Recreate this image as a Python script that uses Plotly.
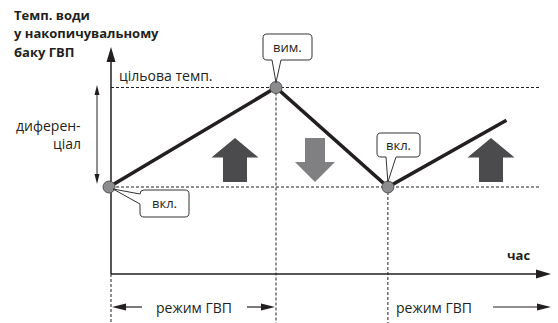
import plotly.graph_objects as go

# 数据：一个ГВП循环（时间, 小时 / 水温, °C）
time_h = [0, 5, 8.35, 11.9]
temp_c = [40, 50, 40, 46.7]
marker_idx = [0, 1, 2]
temp_target = 50
temp_on = 40

title_lines = ["Темп. води", "у накопичувальному", "баку ГВП"]
callout_texts = ["вкл.", "вим.", "вкл."]

W, H = 558, 323
ORIGIN_X, PX_PER_H = 109, 33.4
ON_Y, PX_PER_C = 187, 9.95
INK = "#231f20"
FONT = "Open Sans"


def tx(t):
    return ORIGIN_X + t * PX_PER_H


def ty(v):
    return ON_Y - (v - temp_on) * PX_PER_C


def px(x):
    return x / W


def py(y):
    return 1 - y / H


def P(x, y):
    return f"{px(x):.5f},{py(y):.5f}"


def path(points):
    return "M" + " L".join(P(x, y) for x, y in points) + " Z"


shapes = []


def seg(x0, y0, x1, y1, width=1.2, dash="solid", color=INK, layer="above"):
    shapes.append(dict(type="line", xref="paper", yref="paper", layer=layer,
                       x0=px(x0), y0=py(y0), x1=px(x1), y1=py(y1),
                       line=dict(color=color, width=width, dash=dash)))


def poly(points, fill, line_color=None, width=0):
    shapes.append(dict(type="path", xref="paper", yref="paper", path=path(points),
                       fillcolor=fill, line=dict(color=line_color or fill, width=width)))


def arrow_head(tip, direction, length, half):
    x, y = tip
    if direction == "up":
        poly([(x, y), (x - half, y + length), (x + half, y + length)], INK)
    elif direction == "down":
        poly([(x, y), (x - half, y - length), (x + half, y - length)], INK)
    elif direction == "left":
        poly([(x, y), (x + length, y - half), (x + length, y + half)], INK)
    else:
        poly([(x, y), (x - length, y - half), (x - length, y + half)], INK)


def block_arrow(cx, top, bottom, head_y, shaft_w, head_w, up, color):
    sw, hw = shaft_w / 2, head_w / 2
    if up:
        pts = [(cx, top), (cx + hw, head_y), (cx + sw, head_y), (cx + sw, bottom),
               (cx - sw, bottom), (cx - sw, head_y), (cx - hw, head_y)]
    else:
        pts = [(cx, bottom), (cx + hw, head_y), (cx + sw, head_y), (cx + sw, top),
               (cx - sw, top), (cx - sw, head_y), (cx - hw, head_y)]
    poly(pts, color)


def callout(x0, y0, x1, y1, tail, r=4):
    # 圆角矩形 + 指向数据点的尾巴
    side, a, b, tip = tail
    d = "M" + P(x0 + r, y0)
    d += " L" + P(x1 - r, y0) + " Q" + P(x1, y0) + " " + P(x1, y0 + r)
    d += " L" + P(x1, y1 - r) + " Q" + P(x1, y1) + " " + P(x1 - r, y1)
    if side == "bottom":
        d += " L" + P(b, y1) + " L" + P(*tip) + " L" + P(a, y1)
    d += " L" + P(x0 + r, y1) + " Q" + P(x0, y1) + " " + P(x0, y1 - r)
    if side == "left":
        d += " L" + P(x0, b) + " L" + P(*tip) + " L" + P(x0, a)
    d += " L" + P(x0, y0 + r) + " Q" + P(x0, y0) + " " + P(x0 + r, y0) + " Z"
    shapes.append(dict(type="path", xref="paper", yref="paper", path=d,
                       fillcolor="white", line=dict(color="#333333", width=1)))


AX_X, AX_Y = 111, 274
dash = "3px,2px"

# 虚线：目标温度、开启温度、垂直辅助线（放在曲线下面）
seg(AX_X, ty(temp_target), 540, ty(temp_target), 1, dash, layer="below")
seg(AX_X, ty(temp_on), 540, ty(temp_on), 1, dash, layer="below")
seg(tx(time_h[1]), ty(temp_target), tx(time_h[1]), H, 1, dash, layer="below")
seg(tx(time_h[2]), ty(temp_on), tx(time_h[2]), H, 1, dash, layer="below")
seg(AX_X, AX_Y, AX_X, H, 1, dash, layer="below")

# 坐标轴
seg(AX_X, AX_Y, AX_X, 58, 1.5, layer="below")
arrow_head((AX_X, 47), "up", 15, 4.5)
seg(AX_X, AX_Y, 538, AX_Y, 1.5, layer="below")
arrow_head((551, AX_Y), "right", 15, 4.5)

# 回差双箭头
seg(97, 93, 97, 176, 1)
arrow_head((97, 85), "up", 10, 2.5)
arrow_head((97, 184), "down", 10, 2.5)

# 底部“режим ГВП”箭头
seg(124, 307, 142, 307, 1.2)
arrow_head((112, 307), "left", 14, 3.5)
seg(247, 307, 263, 307, 1.2)
arrow_head((275, 307), "right", 14, 3.5)
seg(493, 307, 539, 307, 1.2)
arrow_head((551, 307), "right", 14, 3.5)

# 加热/冷却块状箭头
block_arrow(235, 138, 182, 157.5, 24, 47, True, "#4b4b4d")
block_arrow(315, 138, 182, 162, 20, 40, False, "#808082")
block_arrow(491, 138, 182, 157.5, 24, 47, True, "#4b4b4d")

# 标注气泡
p0 = (tx(time_h[0]), ty(temp_c[0]))
p1 = (tx(time_h[1]), ty(temp_c[1]))
p2 = (tx(time_h[2]), ty(temp_c[2]))
callout(140, 190, 189, 217, ("left", 194, 204, (p0[0] + 4, p0[1] + 2)))
callout(263, 34, 312, 60, ("bottom", 272, 281, (p1[0], p1[1] - 5)))
callout(377, 133, 420, 157, ("bottom", 386, 396, (p2[0], p2[1] - 5)))

fig = go.Figure()
fig.add_trace(go.Scatter(x=time_h, y=temp_c, mode="lines",
                         line=dict(color=INK, width=3.5), hoverinfo="skip"))
fig.add_trace(go.Scatter(x=[time_h[i] for i in marker_idx], y=[temp_c[i] for i in marker_idx],
                         mode="markers", hoverinfo="skip",
                         marker=dict(size=12, color="#8c8c8e", line=dict(color="#555555", width=1))))

annotations = []


def label(x, y, text, size=14, bold=False, xanchor="left"):
    annotations.append(dict(x=px(x), y=py(y), xref="paper", yref="paper", text=text,
                            showarrow=False, xanchor=xanchor, yanchor="middle",
                            font=dict(family=FONT, size=size, color=INK,
                                      weight="bold" if bold else "normal")))


for i, line in enumerate(title_lines):
    label(12, 15 + i * 18.5, line, 13, True)
label(117, 75, "цільова темп.", 14)
label(83, 125, "диферен-", 14, xanchor="right")
label(83, 143, "ціал", 14, xanchor="right")
label(518, 255, "час", 13, True, xanchor="center")
label(164.5, 203.5, callout_texts[0], 13, xanchor="center")
label(287.5, 47, callout_texts[1], 13, xanchor="center")
label(398.5, 145, callout_texts[2], 13, xanchor="center")
label(194, 307, "режим ГВП", 14, xanchor="center")
label(434, 307, "режим ГВП", 14, xanchor="center")

fig.update_layout(
    width=W, height=H, autosize=False,
    margin=dict(l=0, r=0, t=0, b=0),
    paper_bgcolor="white", plot_bgcolor="white",
    showlegend=False,
    xaxis=dict(range=[-ORIGIN_X / PX_PER_H, (W - ORIGIN_X) / PX_PER_H],
               visible=False, fixedrange=True),
    yaxis=dict(range=[temp_on - (H - ON_Y) / PX_PER_C, temp_on + ON_Y / PX_PER_C],
               visible=False, fixedrange=True),
    shapes=shapes,
    annotations=annotations,
)

# 去掉页面默认边距，使图正好铺满窗口
fig.write_html("out.html", config={"displayModeBar": False},
               post_script="document.body.style.margin='0px';")
